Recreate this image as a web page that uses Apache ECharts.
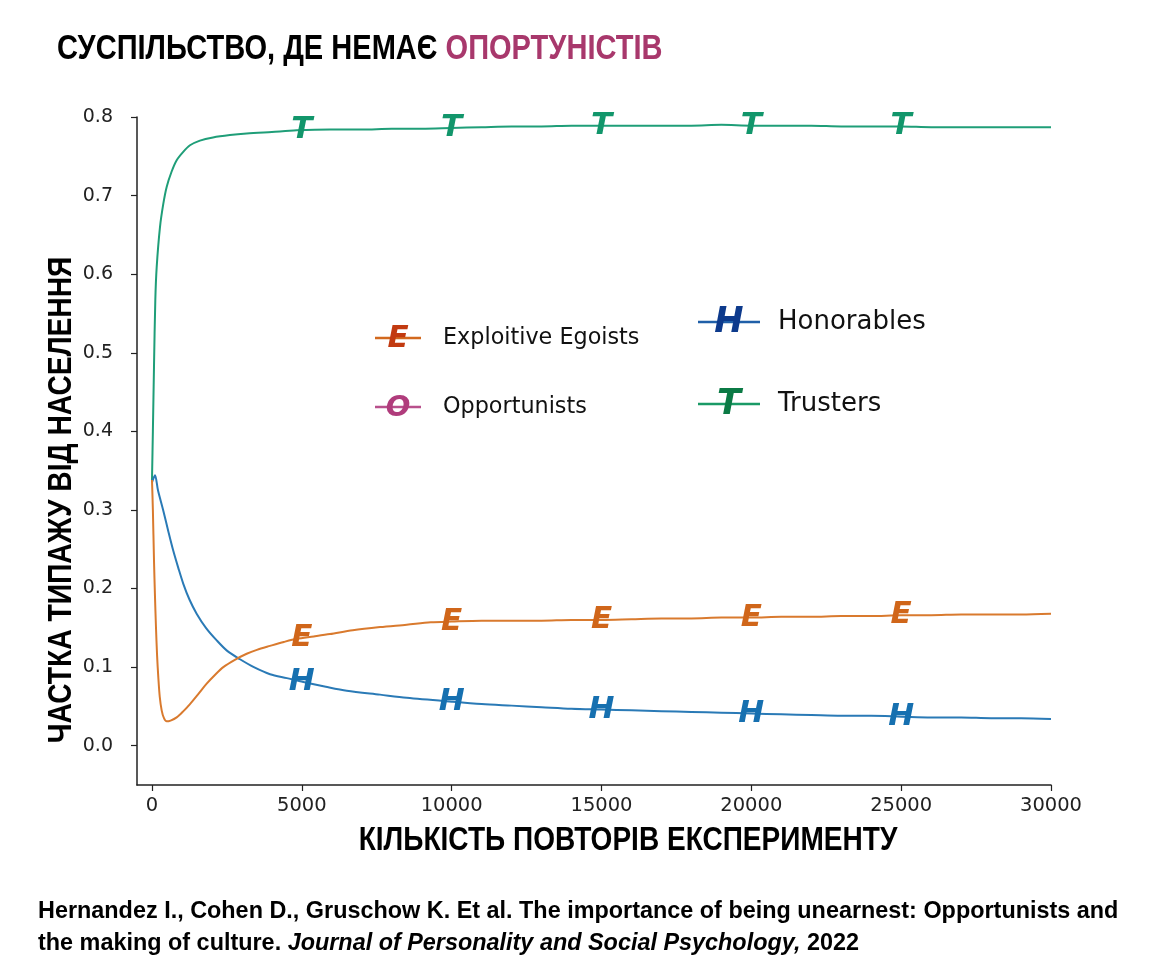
<!DOCTYPE html>
<html>
<head>
<meta charset="utf-8">
<script src="https://cdn.jsdelivr.net/npm/echarts@6/dist/echarts.min.js"></script>
<style>html,body{margin:0;padding:0;background:#fff}#c{width:1152px;height:980px}</style>
</head>
<body>
<div id="c"></div>
<script>
// ---- data ----
const xTicks = [0, 5000, 10000, 15000, 20000, 25000, 30000];
const yTicks = [0, 0.1, 0.2, 0.3, 0.4, 0.5, 0.6, 0.7, 0.8];

const trustersX = [0,30,67,111,157,267,380,490,650,824,1050,1268,1600,2036,2600,3160,4000,4830,5940,7000,8000,9000,10000,11000,12000,13000,14000,15000,16000,17000,18000,19000,20000,21000,22000,23000,24000,25000,26000,27000,28000,29000,30000];
const trustersY = [0.338,0.40,0.482,0.567,0.609,0.660,0.690,0.711,0.730,0.745,0.756,0.764,0.770,0.774,0.777,0.779,0.781,0.783,0.784,0.784,0.785,0.785,0.786,0.787,0.788,0.788,0.789,0.789,0.789,0.789,0.789,0.790,0.789,0.789,0.789,0.788,0.788,0.788,0.787,0.787,0.787,0.787,0.787];

const honorX = [0,100,200,378,550,711,880,1045,1250,1490,1800,2160,2500,2937,3400,3940,4500,5050,5800,6500,7610,8500,10000,11000,12000,13000,14000,15000,16000,17000,18000,19000,20000,21000,22000,23000,24000,25000,26000,27000,28000,29000,30000];
const honorY = [0.335,0.344,0.325,0.299,0.272,0.248,0.226,0.206,0.186,0.168,0.150,0.134,0.121,0.110,0.100,0.091,0.086,0.081,0.075,0.070,0.065,0.061,0.056,0.053,0.051,0.049,0.047,0.046,0.045,0.044,0.043,0.042,0.041,0.040,0.039,0.038,0.038,0.037,0.036,0.036,0.035,0.035,0.034];

const egoistX = [0,30,67,100,133,170,211,260,323,400,490,620,824,1050,1268,1550,1825,2100,2380,2750,3160,3500,3940,4400,4830,5400,5940,6700,7610,8500,9300,10000,11000,12000,13000,14000,15000,16000,17000,18000,19000,20000,21000,22000,23000,24000,25000,26000,27000,28000,29000,30000];
const egoistY = [0.338,0.300,0.236,0.190,0.151,0.115,0.087,0.062,0.045,0.035,0.031,0.032,0.036,0.044,0.053,0.066,0.079,0.090,0.100,0.109,0.117,0.122,0.127,0.132,0.136,0.139,0.142,0.147,0.151,0.154,0.157,0.158,0.159,0.159,0.159,0.160,0.160,0.161,0.162,0.162,0.163,0.163,0.164,0.164,0.165,0.165,0.166,0.166,0.167,0.167,0.167,0.168];

const markerX = [5000, 10000, 15000, 20000, 25000];
const trustersMarks = [0.783, 0.786, 0.789, 0.789, 0.788];
const egoistMarks = [0.137, 0.158, 0.160, 0.163, 0.166];
const honorMarks = [0.081, 0.056, 0.046, 0.041, 0.037];

const legendItems = ['Exploitive Egoists', 'Opportunists', 'Honorables', 'Trusters'];
const titleBlack = 'СУСПІЛЬСТВО, ДЕ НЕМАЄ ';
const titleColored = 'ОПОРТУНІСТІВ';
const yTitle = 'ЧАСТКА ТИПАЖУ ВІД НАСЕЛЕННЯ';
const xTitle = 'КІЛЬКІСТЬ ПОВТОРІВ ЕКСПЕРИМЕНТУ';
const cite1 = 'Hernandez I., Cohen D., Gruschow K. Et al. The importance of being unearnest: Opportunists and';
const cite2a = 'the making of culture. ';
const cite2b = 'Journal of Personality and Social Psychology,';
const cite2c = ' 2022';

// ---- build ----
const zip = (xs, ys) => xs.map((x, i) => [x, ys[i]]);
const C = {
  tLine: '#1f9e78', tMark: '#12966b',
  eLine: '#d97a2e', eMark: '#d0661a',
  hLine: '#2a7ab6', hMark: '#1670b0',
  txt: '#222'
};
const markFont = {fontFamily: 'DejaVu Sans', fontStyle: 'italic', fontWeight: 'bold', fontSize: 31};
function markSeries(vals, letter, color) {
  return {
    type: 'scatter', data: zip(markerX, vals), symbolSize: 1,
    itemStyle: {color: 'rgba(0,0,0,0)'}, z: 5,
    label: Object.assign({show: true, position: 'inside', formatter: letter, color: color,
      textBorderWidth: 0, opacity: 1}, markFont)
  };
}
function lineSeries(xs, ys, color) {
  return {type: 'line', data: zip(xs, ys), showSymbol: false, smooth: 0.3,
    lineStyle: {color: color, width: 2}, z: 3};
}

const condensed = 'Liberation Sans, Arial, sans-serif';
const graphic = [
  {type: 'text', x: 57, y: 49, scaleX: 0.83, style: {
    text: '{a|' + titleBlack + '}{b|' + titleColored + '}',
    rich: {a: {fill: '#000', fontSize: 35, fontWeight: 'bold', fontFamily: condensed},
           b: {fill: '#a8386c', fontSize: 35, fontWeight: 'bold', fontFamily: condensed}},
    verticalAlign: 'middle', align: 'left'}},
  {type: 'text', x: 62, y: 500, rotation: Math.PI / 2, scaleX: 0.855, style: {
    text: yTitle, fill: '#000', fontSize: 33, fontWeight: 'bold', fontFamily: condensed,
    align: 'center', verticalAlign: 'middle'}},
  {type: 'text', x: 628, y: 841, scaleX: 0.85, style: {
    text: xTitle, fill: '#000', fontSize: 33, fontWeight: 'bold', fontFamily: condensed,
    align: 'center', verticalAlign: 'middle'}},
  {type: 'text', x: 38, y: 911, scaleX: 0.975, style: {
    text: cite1, fill: '#000', fontSize: 24, fontWeight: 'bold', fontFamily: condensed,
    align: 'left', verticalAlign: 'middle'}},
  {type: 'text', x: 38, y: 943, scaleX: 0.975, style: {
    text: '{n|' + cite2a + '}{i|' + cite2b + '}{n|' + cite2c + '}',
    rich: {n: {fill: '#000', fontSize: 24, fontWeight: 'bold', fontFamily: condensed},
           i: {fill: '#000', fontSize: 24, fontWeight: 'bold', fontStyle: 'italic', fontFamily: condensed}},
    align: 'left', verticalAlign: 'middle'}}
];
// legend (custom, letter-on-line icons)
const legendDefs = [
  {name: legendItems[0], letter: 'E', line: '#d2691e', let: '#c23a10', x: 375, y: 338, fs: 22.3, lfs: 31, w: 46},
  {name: legendItems[1], letter: 'O', line: '#b8508c', let: '#b03c7c', x: 375, y: 407, fs: 22.3, lfs: 29, w: 46},
  {name: legendItems[2], letter: 'H', line: '#1f5fa8', let: '#0d3a8c', x: 698, y: 322, fs: 26, lfs: 35, w: 62},
  {name: legendItems[3], letter: 'T', line: '#1a9a66', let: '#0b7a45', x: 698, y: 404, fs: 26, lfs: 35, w: 62}
];
legendDefs.forEach(d => {
  graphic.push({type: 'line', shape: {x1: d.x, y1: d.y, x2: d.x + d.w, y2: d.y}, style: {stroke: d.line, lineWidth: 2.5}});
  graphic.push({type: 'text', x: d.x + d.w / 2, y: d.y + 1, style: {text: d.letter, fill: d.let, fontSize: d.lfs,
    fontWeight: 'bold', fontStyle: 'italic', fontFamily: 'DejaVu Sans', align: 'center', verticalAlign: 'middle'}});
  graphic.push({type: 'text', x: d.x + d.w + (d.fs > 23 ? 18 : 22), y: d.y, style: {text: d.name, fill: '#111', fontSize: d.fs,
    fontFamily: 'DejaVu Sans', align: 'left', verticalAlign: 'middle'}});
});

const chart = echarts.init(document.getElementById('c'), null, {renderer: 'canvas'});
chart.setOption({
  animation: false,
  backgroundColor: '#fff',
  grid: {left: 137, right: 101, top: 117, bottom: 195, containLabel: false},
  xAxis: {
    type: 'value', min: -500, max: 30000,
    splitLine: {show: false},
    axisLine: {onZero: false, lineStyle: {color: '#222', width: 1.5}},
    axisTick: {show: true, length: 6, lineStyle: {color: '#222', width: 1.2}, customValues: xTicks},
    axisLabel: {customValues: xTicks, color: C.txt, fontSize: 19.5, fontFamily: 'DejaVu Sans', margin: 11,
      formatter: v => String(v)}
  },
  yAxis: {
    type: 'value', min: -0.05, max: 0.8,
    splitLine: {show: false},
    axisLine: {show: true, onZero: false, lineStyle: {color: '#222', width: 1.5}},
    axisTick: {show: true, length: 6, lineStyle: {color: '#222', width: 1.2}, customValues: yTicks},
    axisLabel: {customValues: yTicks, color: C.txt, fontSize: 19, fontFamily: 'DejaVu Sans', margin: 24,
      formatter: v => v.toFixed(1)}
  },
  series: [
    lineSeries(trustersX, trustersY, C.tLine),
    lineSeries(honorX, honorY, C.hLine),
    lineSeries(egoistX, egoistY, C.eLine),
    markSeries(trustersMarks, 'T', C.tMark),
    markSeries(egoistMarks, 'E', C.eMark),
    markSeries(honorMarks, 'H', C.hMark)
  ],
  graphic: graphic
});
</script>
</body>
</html>
